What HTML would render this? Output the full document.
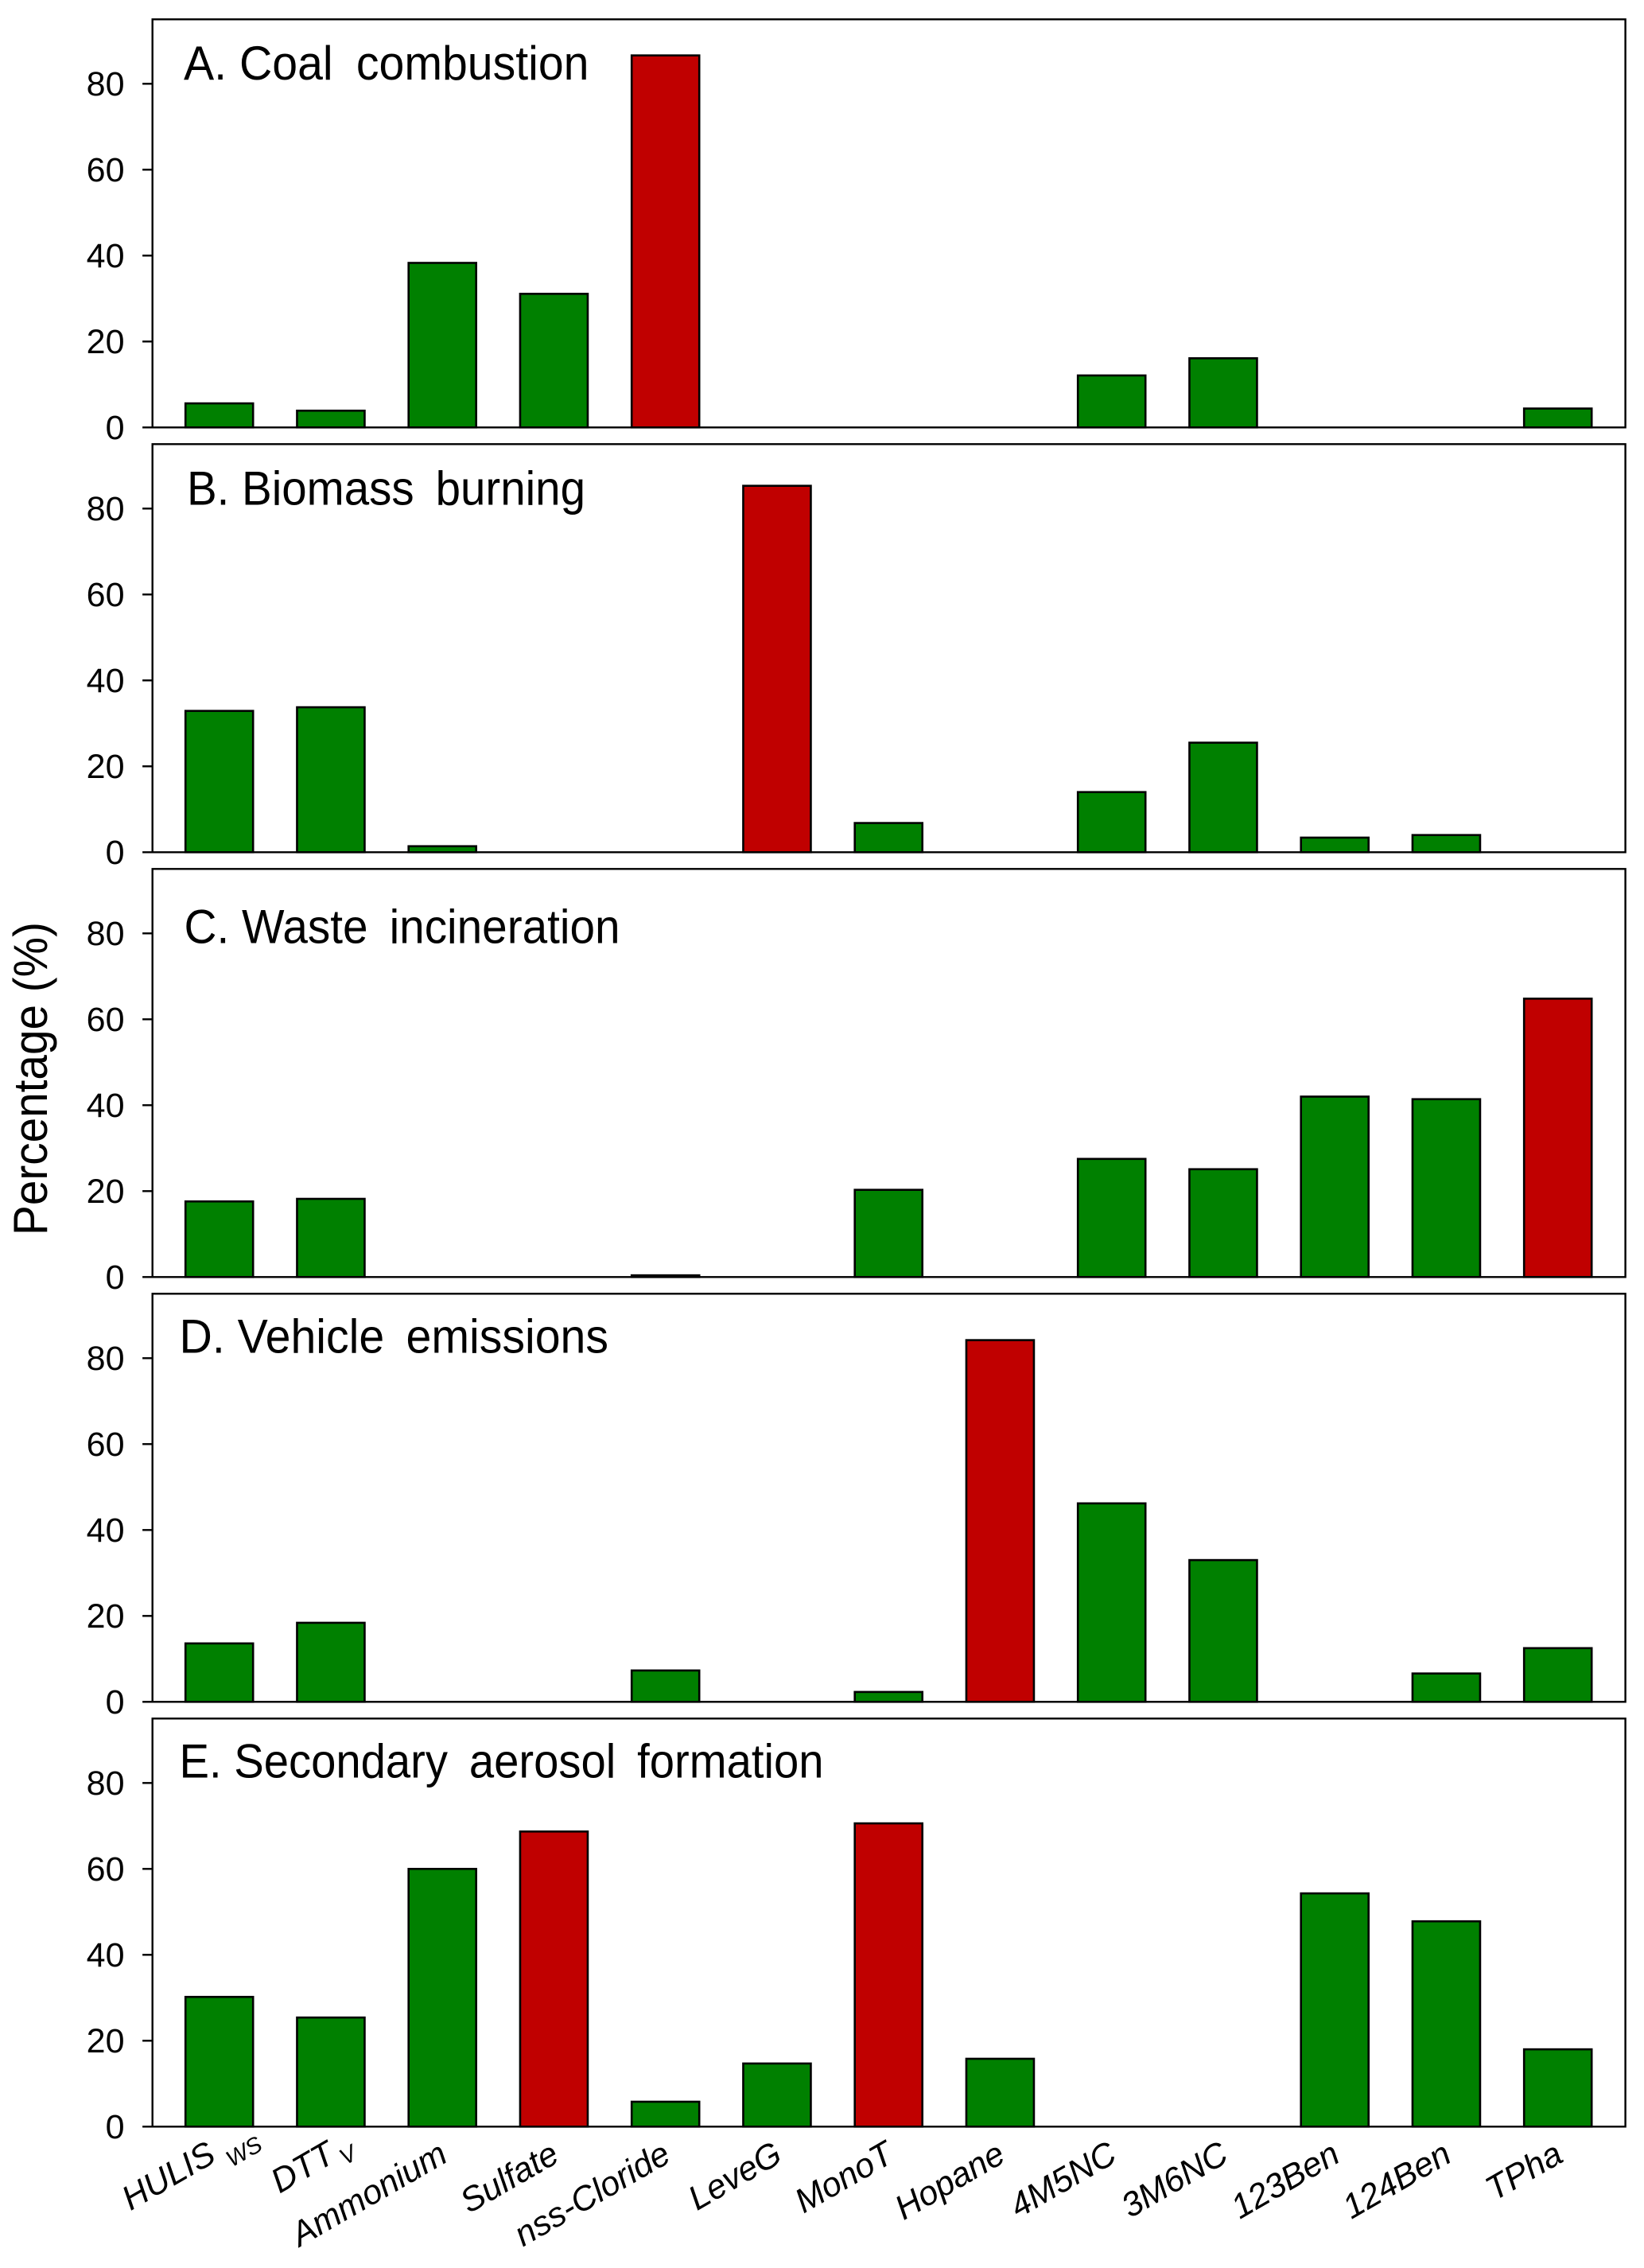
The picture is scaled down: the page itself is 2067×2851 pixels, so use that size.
<!DOCTYPE html>
<html lang="en">
<head>
<meta charset="utf-8">
<title>Source contribution percentages</title>
<style>
  html, body { margin: 0; padding: 0; background: #fff; }
  svg { display: block; }
  text { font-family: "Liberation Sans", Arial, sans-serif; fill: #000; }
</style>
</head>
<body>
<svg id="chart" xmlns="http://www.w3.org/2000/svg" width="2067" height="2851" viewBox="0 0 2067 2851">
  <rect x="0" y="0" width="2067" height="2851" fill="#fff"/>
  <g id="panels"></g>
  <text x="231" y="100" font-size="60" textLength="509.5" lengthAdjust="spacingAndGlyphs">A. Coal<tspan word-spacing="14"> </tspan>combustion</text>
  <text x="235" y="634.5" font-size="60" textLength="501" lengthAdjust="spacingAndGlyphs">B. Biomass<tspan word-spacing="12"> </tspan>burning</text>
  <text x="231.5" y="1185.5" font-size="60" textLength="548" lengthAdjust="spacingAndGlyphs">C. Waste<tspan word-spacing="12"> </tspan>incineration</text>
  <text x="225.5" y="1700.5" font-size="60" textLength="539.5" lengthAdjust="spacingAndGlyphs">D. Vehicle<tspan word-spacing="12"> </tspan>emissions</text>
  <text x="225.5" y="2234.5" font-size="60" textLength="810" lengthAdjust="spacingAndGlyphs">E. Secondary<tspan word-spacing="12"> </tspan>aerosol<tspan word-spacing="12"> </tspan>formation</text>
  <text transform="translate(59,1553) rotate(-90)" font-size="60" textLength="394" lengthAdjust="spacingAndGlyphs">Percentage (%)</text>
  <g id="xlabels"></g>
</svg>
<script>
const categories = ["HULIS", "DTT", "Ammonium", "Sulfate", "nss-Cloride", "LeveG", "MonoT", "Hopane", "4M5NC", "3M6NC", "123Ben", "124Ben", "TPha"];
const categorySubscripts = ["WS", "V", "", "", "", "", "", "", "", "", "", "", ""];
const yTicks = [0, 20, 40, 60, 80];
const coalValues = [5.6, 3.9, 38.3, 31.1, 86.6, 0, 0, 0, 12.1, 16.1, 0, 0, 4.4];
const biomassValues = [32.9, 33.75, 1.4, 0, 0, 85.3, 6.8, 0, 14, 25.5, 3.4, 4, 0];
const wasteValues = [17.6, 18.2, 0, 0, 0.4, 0, 20.3, 0, 27.5, 25.1, 42, 41.4, 64.8];
const vehicleValues = [13.6, 18.4, 0, 0, 7.3, 0, 2.3, 84.2, 46.2, 33, 0, 6.6, 12.5];
const secondaryValues = [30.2, 25.4, 60, 68.7, 5.8, 14.7, 70.6, 15.8, 0, 0, 54.3, 47.8, 18];
const coalHighlights = ["nss-Cloride"];
const biomassHighlights = ["LeveG"];
const wasteHighlights = ["TPha"];
const vehicleHighlights = ["Hopane"];
const secondaryHighlights = ["Sulfate", "MonoT"];

const panelNames = ["coal", "biomass", "waste", "vehicle", "secondary"];
const panelSeries = [coalValues, biomassValues, wasteValues, vehicleValues, secondaryValues];
const panelHighlights = [coalHighlights, biomassHighlights, wasteHighlights, vehicleHighlights, secondaryHighlights];

const SVG_NS = "http://www.w3.org/2000/svg";
const panelsGroup = document.getElementById("panels");
const labelsGroup = document.getElementById("xlabels");

const frameLeft = 191.7;
const frameRight = 2043.6;
const firstBaseline = 537.3;
const panelStep = 534;
const pxPerUnit = 5.4;
const axisMax = 95;
const firstCenter = 275.7;
const centerStep = 140.25;
const barWidth = 85;

function xCenter(i) { return firstCenter + centerStep * i; }
function yValue(panel, v) { return firstBaseline + panelStep * panel - v * pxPerUnit; }

function make(tag, parent, attrs) {
  const el = document.createElementNS(SVG_NS, tag);
  for (const k in attrs) el.setAttribute(k, attrs[k]);
  parent.appendChild(el);
  return el;
}

panelSeries.forEach(function (series, p) {
  const name = panelNames[p];
  const g = make("g", panelsGroup, {});
  
  

  const top = yValue(p, axisMax);
  const bottom = yValue(p, 0);
  const frame = make("rect", g, {
    x: frameLeft, y: top, width: frameRight - frameLeft, height: bottom - top,
    fill: "#fff", stroke: "#000", "stroke-width": 2.4
  });
  
  

  yTicks.forEach(function (t) {
    const y = yValue(p, t);
    const tick = make("line", g, {
      x1: frameLeft - 12.6, x2: frameLeft, y1: y, y2: y, stroke: "#000", "stroke-width": 2.4
    });
    
    
    const label = make("text", g, {
      x: 156.5, y: y + 14.5, "font-size": 43, "text-anchor": "end"
    });
    label.textContent = String(t);
    
    
  });

  series.forEach(function (v, i) {
    if (v <= 0) return;
    const isRed = panelHighlights[p].indexOf(categories[i]) >= 0;
    const y = yValue(p, v);
    const bar = make("rect", g, {
      x: xCenter(i) - barWidth / 2, y: y, width: barWidth, height: bottom - y,
      fill: isRed ? "#c00000" : "#008000", stroke: "#000", "stroke-width": 2.6
    });
    
    
  });
});

categories.forEach(function (c, i) {
  const sub = categorySubscripts[i];
  const dx = sub === "WS" ? -2 : (sub === "V" ? 8 : 9);
  const t = make("text", labelsGroup, {
    "font-size": 43, "font-style": "italic", "text-anchor": "end",
    transform: "translate(" + (xCenter(i) + dx) + ",2716) rotate(-30)"
  });
  t.textContent = c;
  
  
  if (sub) {
    const s = make("text", labelsGroup, {
      "font-size": 29, "font-style": "italic", "text-anchor": "start",
      transform: "translate(" + (xCenter(i) + dx) + ",2716) rotate(-30) translate(" + (sub === "WS" ? 11 : 5.5) + "," + (sub === "WS" ? 16.5 : 10.5) + ")"
    });
    s.textContent = sub;
    
    
  }
});
</script>
</body>
</html>
